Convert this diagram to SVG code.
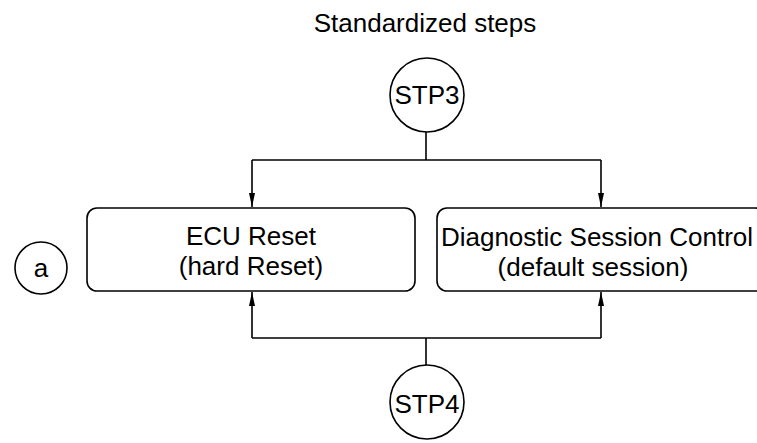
<svg xmlns="http://www.w3.org/2000/svg" width="757" height="443" viewBox="0 0 757 443">
<style>
text{font-family:"Liberation Sans",Arial,sans-serif;font-size:26px;fill:#000;text-anchor:middle}
.s{fill:#fff;stroke:#000;stroke-width:1.6}
.c{fill:none;stroke:#000;stroke-width:1.6}
</style>
<defs>
<marker id="ar" viewBox="0 0 14 6" refX="14" refY="3" markerWidth="14" markerHeight="6" markerUnits="userSpaceOnUse" orient="auto">
<path d="M0,0 L14,3 L0,6 Z" fill="#000"/>
</marker>
</defs>
<rect width="757" height="443" fill="#fff"/>
<text x="425" y="32">Standardized steps</text>
<g id="connectors">
<path class="c" d="M426,132 V160 M252,160 H601 M252,160 V207" marker-end="url(#ar)"/>
<path class="c" d="M601,160 V207" marker-end="url(#ar)"/>
<path class="c" d="M426,365 V338 M252,338 H601 M252,338 V292" marker-end="url(#ar)"/>
<path class="c" d="M601,338 V292" marker-end="url(#ar)"/>
</g>
<g id="stp3">
<circle class="s" cx="427" cy="95" r="37"/>
<text x="427" y="104">STP3</text>
</g>
<g id="stp4">
<circle class="s" cx="427" cy="402" r="37"/>
<text x="427" y="413">STP4</text>
</g>
<g id="a">
<circle class="s" cx="41" cy="268" r="26"/>
<text x="41" y="277">a</text>
</g>
<g id="ecu-reset">
<rect class="s" x="87" y="208" width="328" height="83" rx="10"/>
<text x="251" y="245">ECU Reset</text>
<text x="251" y="275">(hard Reset)</text>
</g>
<g id="dsc">
<rect class="s" x="437" y="208" width="328" height="83" rx="10"/>
<text x="597" y="246">Diagnostic Session Control</text>
<text x="593" y="276">(default session)</text>
</g>
</svg>
